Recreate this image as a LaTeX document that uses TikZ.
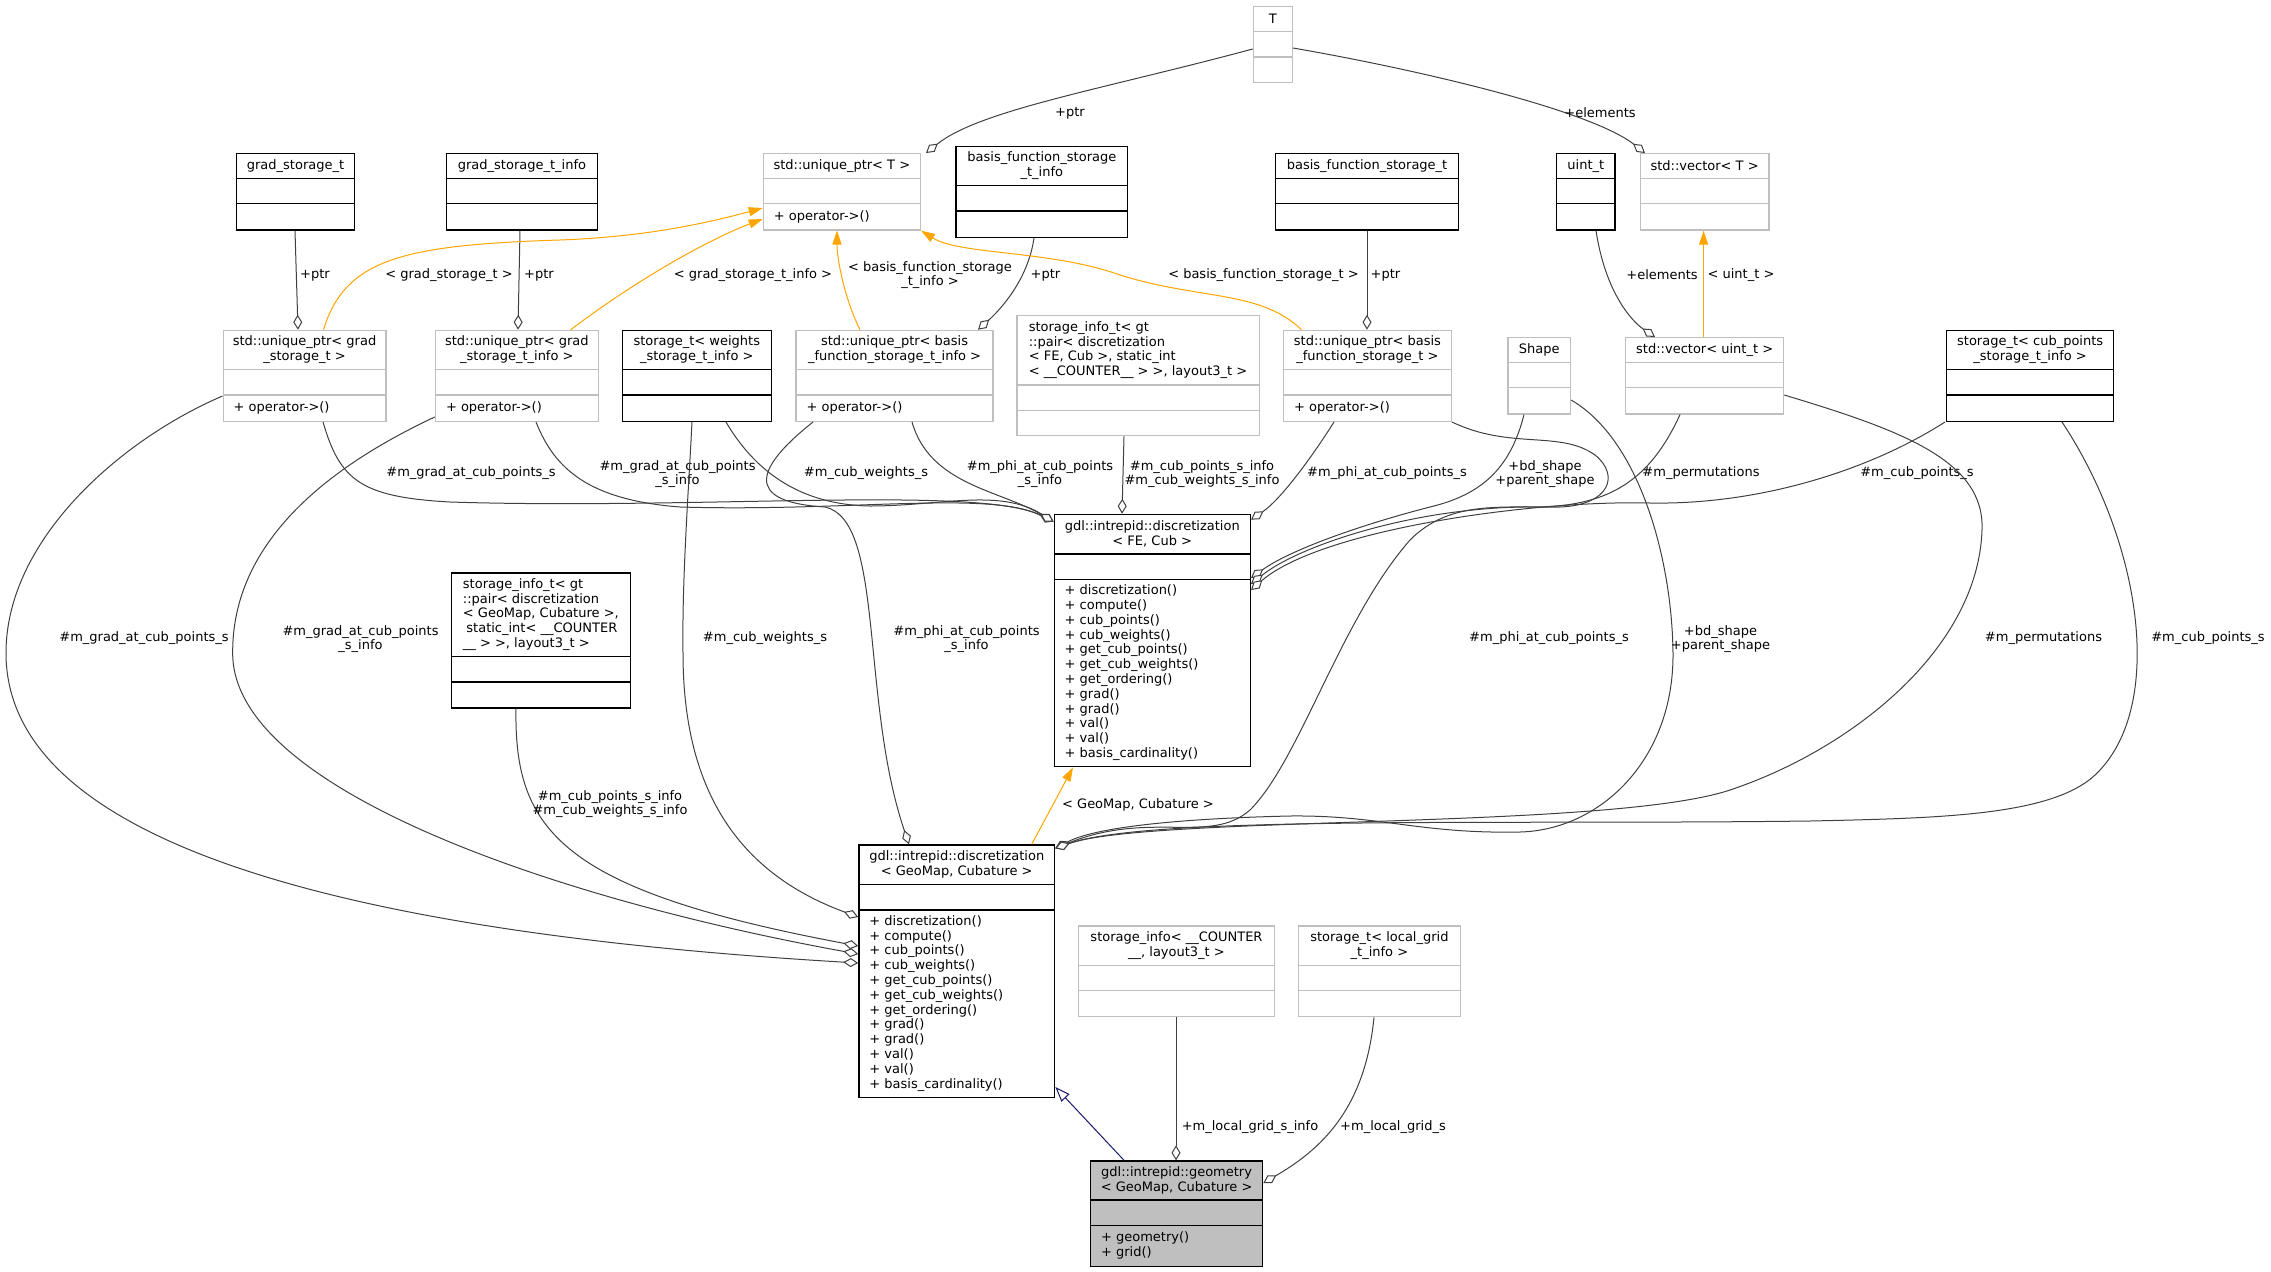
\documentclass[tikz,border=0pt]{standalone}
\usepackage{fontspec}
\setmainfont{DejaVu Sans}
\usetikzlibrary{calc, arrows.meta}
\definecolor{umlgray}{HTML}{BFBFBF}
\definecolor{edgegray}{HTML}{404040}
\definecolor{tmplorange}{HTML}{FFA500}
\definecolor{inhnavy}{HTML}{191970}

% class box: [title align]{style}{name}{top left}{width}{title height}{total height}{title}{methods}
\newcommand{\umlclass}[9][center]{%
  \node[#2, anchor=north west, minimum width=#5pt, minimum height=#7pt, inner sep=0pt] (#3) at (#4) {};
  \draw[#2, fill=none] ($(#3.north west)+(0,#6)$) -- +(#5,0);
  \draw[#2, fill=none] ($(#3.north west)+(0,#6+25.3)$) -- +(#5,0);
  \node[classtext, align=#1] (#3-t) at ($(#3.north)+(0,#6/2)$) {#8};
  \node[classtext, align=left, anchor=west] (#3-m) at ($(#3.north west)+(11,{(#6+25.3+#7)/2})$) {#9};
}
\newcommand{\discmethods}{+ discretization()\\+ compute()\\+ cub\_points()\\+ cub\_weights()\\+ get\_cub\_points()\\+ get\_cub\_weights()\\+ get\_ordering()\\+ grad()\\+ grad()\\+ val()\\+ val()\\+ basis\_cardinality()}

\begin{document}
\begin{tikzpicture}[x=1pt, y=-1pt,
  grayclass/.style={draw=umlgray, line width=1.3pt, fill=white},
  blackclass/.style={draw=black, line width=1.3pt, fill=white},
  focusclass/.style={draw=black, line width=1.3pt, fill=umlgray},
  classtext/.style={font=\fontsize{13}{14.8}\selectfont, inner sep=0pt},
  elabel/.style={font=\fontsize{13}{14.8}\selectfont, inner sep=0pt, align=center},
  member/.style={draw=edgegray, line width=1pt, -{Diamond[fill=white, length=15pt, width=9pt]}},
  tmpl/.style={draw=tmplorange, line width=1pt, -{Triangle[length=14pt, width=9pt]}},
  inherit/.style={draw=inhnavy, line width=1pt, -{Triangle[fill=white, length=15pt, width=11pt]}},
]
  \useasboundingbox (0,0) rectangle (2271,1272);

  % classes
  \umlclass{grayclass}{tclass}{1252.7,5.7}{39}{26}{76.3}{T}{}
  \umlclass{grayclass}{uptrT}{762.7,153}{157}{25.3}{76.3}{std::unique\_ptr< T >}{+ operator->()}
  \umlclass{blackclass}{gst}{235.6,153}{118.5}{25.3}{76.3}{grad\_storage\_t}{}
  \umlclass{blackclass}{gsti}{445.7,153}{151.2}{25.3}{76.3}{grad\_storage\_t\_info}{}
  \umlclass{blackclass}{bfsti}{955.4,145.7}{171.6}{40}{91}{basis\_function\_storage\\\_t\_info}{}
  \umlclass{blackclass}{bfst}{1274.8,153}{183.2}{25.3}{76.3}{basis\_function\_storage\_t}{}
  \umlclass{blackclass}{uint}{1556,153}{58.4}{25.3}{76.3}{uint\_t}{}
  \umlclass{grayclass}{vecT}{1639.5,153}{128.9}{25.3}{76.3}{std::vector< T >}{}
  \umlclass{grayclass}{ugst}{222.5,329.7}{162.8}{40}{91}{std::unique\_ptr< grad\\\_storage\_t >}{+ operator->()}
  \umlclass{grayclass}{ugsti}{434.8,329.7}{162.8}{40}{91}{std::unique\_ptr< grad\\\_storage\_t\_info >}{+ operator->()}
  \umlclass{blackclass}{wst}{621.6,329.7}{149.1}{40}{91}{storage\_t< weights\\\_storage\_t\_info >}{}
  \umlclass{grayclass}{ubfsti}{795.4,329.7}{197}{40}{91}{std::unique\_ptr< basis\\\_function\_storage\_t\_info >}{+ operator->()}
  \umlclass[left]{grayclass}{sifc}{1016.2,315}{242.4}{70}{120}{storage\_info\_t< gt\\::pair< discretization\\< FE, Cub >, static\_int\\< \_\_COUNTER\_\_ > >, layout3\_t >}{}
  \umlclass{grayclass}{ubfst}{1282.9,329.7}{167.8}{40}{91}{std::unique\_ptr< basis\\\_function\_storage\_t >}{+ operator->()}
  \umlclass{grayclass}{shape}{1507.4,337}{62.4}{25.3}{76.3}{Shape}{}
  \umlclass{grayclass}{vecu}{1625,337}{158}{25.3}{76.3}{std::vector< uint\_t >}{}
  \umlclass{blackclass}{cpst}{1946,329.7}{167}{40}{91}{storage\_t< cub\_points\\\_storage\_t\_info >}{}
  \umlclass{blackclass}{fec}{1053.5,513.7}{196.2}{40.3}{252.3}{gdl::intrepid::discretization\\< FE, Cub >}{\discmethods}
  \umlclass[left]{blackclass}{sigc}{450.8,572.3}{178.8}{84.4}{135}{storage\_info\_t< gt\\::pair< discretization\\< GeoMap, Cubature >,\\\hspace*{3.5pt}static\_int< \_\_COUNTER\\\_\_ > >, layout3\_t >}{}
  \umlclass{blackclass}{gmc}{858.2,844.3}{195.8}{40.4}{252.4}{gdl::intrepid::discretization\\< GeoMap, Cubature >}{\discmethods}
  \umlclass{grayclass}{sicl}{1077.7,925.3}{196.3}{40}{90.7}{storage\_info< \_\_COUNTER\\\_\_, layout3\_t >}{}
  \umlclass{grayclass}{stlg}{1297.8,925.3}{161.9}{40}{90.7}{storage\_t< local\_grid\\\_t\_info >}{}
  \umlclass{focusclass}{geo}{1089.9,1160.3}{172.1}{39.7}{105.7}{gdl::intrepid::geometry\\< GeoMap, Cubature >}{+ geometry()\\+ grid()}

  % upper row
  \draw[member] (tclass.west |- 0,49) .. controls (1100,90) and (980,110) .. (uptrT.north -| 926,0);
  \draw[member] (tclass.east |- 0,48) .. controls (1420,70) and (1590,110) .. (vecT.north -| 1645,0);
  \draw[member] (gst.south -| 295,0) -- (ugst.north -| 298,0);
  \draw[member] (gsti.south -| 520,0) -- (ugsti.north -| 518,0);
  \draw[member] (bfsti.south -| 1034,0) .. controls (1028,280) and (1000,310) .. (ubfsti.north -| 978,0);
  \draw[member] (bfst.south -| 1367,0) -- (ubfst.north -| 1367,0);
  \draw[member] (uint.south -| 1596,0) .. controls (1605,290) and (1630,320) .. (vecu.north -| 1655,0);
  \draw[tmpl] (vecu.north -| 1703.6,0) -- (vecT.south -| 1703.6,0);
  \draw[tmpl] (ugst.north -| 323.5,0) .. controls (345,260) and (400,245) .. (560,240)
    .. controls (640,237) and (700,225) .. (uptrT.west |- 0,208);
  \draw[tmpl] (ugsti.north -| 570.7,0) .. controls (650,270) and (720,235) .. (uptrT.west |- 0,219);
  \draw[tmpl] (ubfsti.north -| 860,0) .. controls (845,300) and (837,260) .. (uptrT.south -| 837,0);
  \draw[tmpl] (ubfst.north -| 1301.5,0) .. controls (1260,290) and (1200,300) .. (1120,275)
    .. controls (1050,250) and (960,255) .. (uptrT.south east);

  \node[elabel] (lbl-ptrT) at (1070,113) {+ptr};
  \node[elabel] (lbl-elemT) at (1600,113) {+elements};
  \node[elabel] (lbl-ptrgst) at (315,275) {+ptr};
  \node[elabel] (lbl-tgst) at (449,275) {< grad\_storage\_t >};
  \node[elabel] (lbl-ptrgsti) at (539,275) {+ptr};
  \node[elabel] (lbl-tgsti) at (753,275) {< grad\_storage\_t\_info >};
  \node[elabel] (lbl-tbfsti) at (930,275) {< basis\_function\_storage\\\_t\_info >};
  \node[elabel] (lbl-ptrbfsti) at (1045.5,275) {+ptr};
  \node[elabel] (lbl-tbfst) at (1263.5,275) {< basis\_function\_storage\_t >};
  \node[elabel] (lbl-ptrbfst) at (1385.5,275) {+ptr};
  \node[elabel] (lbl-elemu) at (1662,275) {+elements};
  \node[elabel] (lbl-tuint) at (1741,275) {< uint\_t >};

  % members of discretization< FE, Cub >
  \draw[member] (ugst.south -| 323,0) .. controls (340,480) and (360,497) .. (450,502)
    .. controls (700,510) and (980,485) .. ([yshift=-8pt]fec.north west);
  \draw[member] (ugsti.south -| 536,0) .. controls (555,470) and (590,500) .. (680,507)
    .. controls (850,512) and (990,490) .. ([yshift=-8pt]fec.north west);
  \draw[member] (wst.south -| 726,0) .. controls (760,480) and (810,505) .. (870,506)
    .. controls (940,506) and (1000,488) .. ([yshift=-8pt]fec.north west);
  \draw[member] (ubfsti.south -| 912,0) .. controls (930,485) and (1000,490) .. ([yshift=-8pt]fec.north west);
  \draw[member] (sifc.south -| 1124,0) -- (fec.north -| 1122,0);
  \draw[member] (ubfst.south -| 1334,0) .. controls (1310,460) and (1280,500) .. ([yshift=-6pt]fec.north east);
  \draw[member] (shape.south -| 1524,0) .. controls (1510,470) and (1480,495) .. (1430,507)
    .. controls (1360,525) and (1290,550) .. (fec.east |- 0,578);
  \draw[member] (vecu.south -| 1680,0) .. controls (1650,480) and (1610,505) .. (1540,507)
    .. controls (1420,505) and (1300,545) .. (fec.east |- 0,584);
  \draw[member] (cpst.south -| 1945,0) .. controls (1870,470) and (1760,505) .. (1650,503)
    .. controls (1530,500) and (1320,530) .. (fec.east |- 0,590);

  \node[elabel] (lbl-fgrad) at (471,473) {\#m\_grad\_at\_cub\_points\_s};
  \node[elabel] (lbl-fgradi) at (677.5,474) {\#m\_grad\_at\_cub\_points\\\_s\_info};
  \node[elabel] (lbl-fweights) at (866,473) {\#m\_cub\_weights\_s};
  \node[elabel] (lbl-fphii) at (1040,474) {\#m\_phi\_at\_cub\_points\\\_s\_info};
  \node[elabel] (lbl-finfo) at (1202,474) {\#m\_cub\_points\_s\_info\\\#m\_cub\_weights\_s\_info};
  \node[elabel] (lbl-fphi) at (1387,473) {\#m\_phi\_at\_cub\_points\_s};
  \node[elabel] (lbl-fshape) at (1545,474) {+bd\_shape\\+parent\_shape};
  \node[elabel] (lbl-fperm) at (1701,473) {\#m\_permutations};
  \node[elabel] (lbl-fcub) at (1917,473) {\#m\_cub\_points\_s};

  % members of discretization< GeoMap, Cubature >
  \draw[member] (ugst.west |- 0,396) .. controls (120,440) and (6,540) .. (6,653)
    .. controls (6,830) and (300,930) .. (gmc.west |- 0,963);
  \draw[member] (ugsti.west |- 0,417) .. controls (300,480) and (232,560) .. (232.7,653)
    .. controls (232,790) and (560,900) .. (gmc.west |- 0,954);
  \draw[member] (wst.south -| 692,0) .. controls (688,500) and (682,580) .. (683,653)
    .. controls (683,780) and (730,870) .. (gmc.west |- 0,917);
  \draw[member] (sigc.south -| 516,0) .. controls (514,830) and (560,890) .. (gmc.west |- 0,946);
  \draw[member] (ubfsti.south -| 813,0) .. controls (740,480) and (760,503) .. (825,507)
    .. controls (885,520) and (860,700) .. (gmc.north -| 909,0);
  \draw[member] (ubfst.south east) .. controls (1510,450) and (1560,430) .. (1595,455)
    .. controls (1620,475) and (1610,505) .. (1560,507)
    .. controls (1500,508) and (1450,500) .. (1410,540)
    .. controls (1340,620) and (1300,760) .. (1250,810)
    .. controls (1210,845) and (1150,810) .. ([yshift=-4pt]gmc.north east);
  \draw[member] (shape.east |- 0,400) .. controls (1640,440) and (1672,560) .. (1673,653)
    .. controls (1674,760) and (1600,830) .. (1520,832)
    .. controls (1420,834) and (1380,815) .. (1290,816)
    .. controls (1200,818) and (1100,825) .. ([yshift=-4pt]gmc.north east);
  \draw[member] (vecu.east |- 0,395) .. controls (1900,430) and (1985,460) .. (1982,530)
    .. controls (1978,650) and (1850,750) .. (1730,790)
    .. controls (1610,830) and (1150,815) .. ([yshift=-4pt]gmc.north east);
  \draw[member] (cpst.south -| 2062,0) .. controls (2140,540) and (2165,700) .. (2100,770)
    .. controls (2060,815) and (1950,818) .. (1810,821)
    .. controls (1500,825) and (1150,815) .. ([yshift=-4pt]gmc.north east);
  \draw[tmpl] (gmc.north -| 1031.7,0) -- (fec.south -| 1073,0);

  \node[elabel] (lbl-ggrad) at (144,638) {\#m\_grad\_at\_cub\_points\_s};
  \node[elabel] (lbl-ggradi) at (360.5,639) {\#m\_grad\_at\_cub\_points\\\_s\_info};
  \node[elabel] (lbl-gweights) at (765,638) {\#m\_cub\_weights\_s};
  \node[elabel] (lbl-gphii) at (966.5,639) {\#m\_phi\_at\_cub\_points\\\_s\_info};
  \node[elabel] (lbl-ginfo) at (610,804) {\#m\_cub\_points\_s\_info\\\#m\_cub\_weights\_s\_info};
  \node[elabel] (lbl-gphi) at (1549,638) {\#m\_phi\_at\_cub\_points\_s};
  \node[elabel] (lbl-gshape) at (1720.5,639) {+bd\_shape\\+parent\_shape};
  \node[elabel] (lbl-gperm) at (2043.5,638) {\#m\_permutations};
  \node[elabel] (lbl-gcub) at (2208,638) {\#m\_cub\_points\_s};
  \node[elabel] (lbl-geomap) at (1138,805) {< GeoMap, Cubature >};

  % geometry
  \draw[inherit] (geo.north -| 1124,0) -- (gmc.east |- 0,1087);
  \draw[member] (sicl.south -| 1176,0) -- (geo.north -| 1176,0);
  \draw[member] (stlg.south -| 1374,0) .. controls (1365,1110) and (1320,1150) .. (geo.east |- 0,1183);
  \node[elabel] (lbl-grid-info) at (1250,1127) {+m\_local\_grid\_s\_info};
  \node[elabel] (lbl-grid) at (1393,1127) {+m\_local\_grid\_s};
\end{tikzpicture}
\end{document}
